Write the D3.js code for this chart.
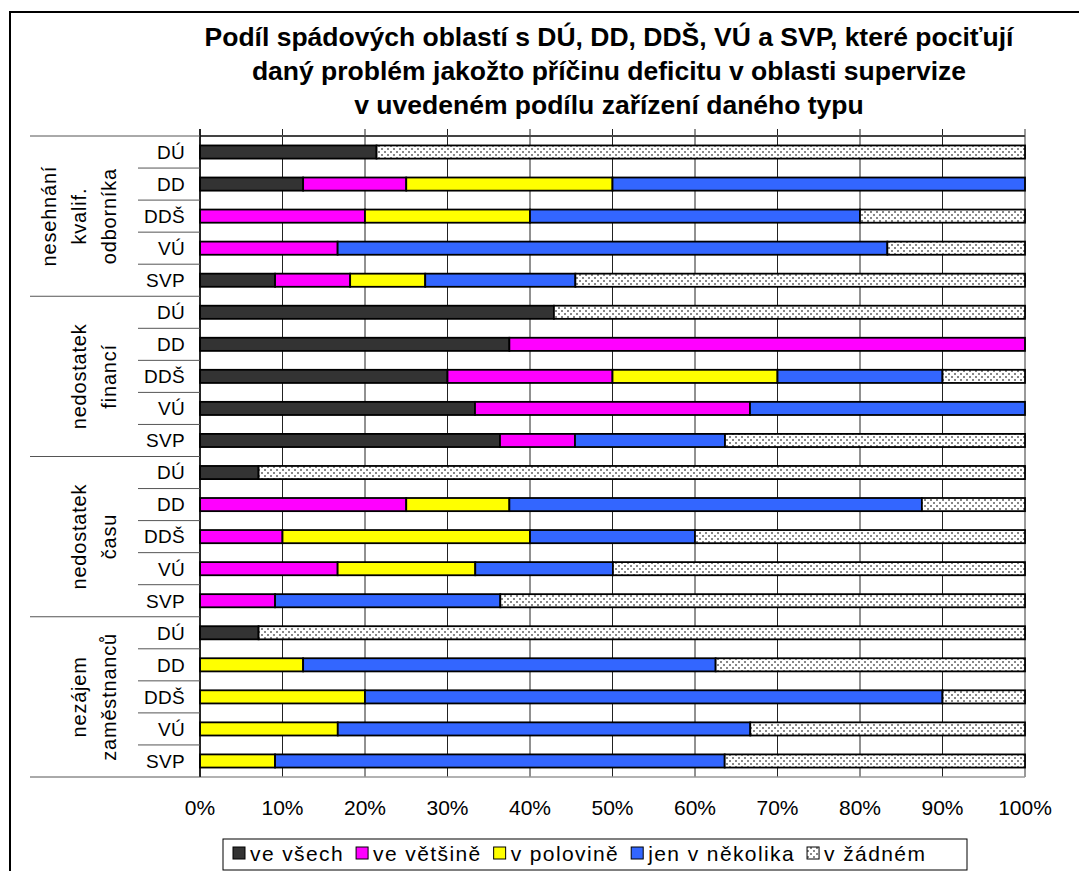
<!DOCTYPE html>
<html lang="cs">
<head>
    <meta charset="UTF-8">
    <title>Podíl spádových oblastí</title>
    <script src="https://d3js.org/d3.v7.min.js"></script>
    <style>
        body { margin: 0; background: #fff; }
        svg { display: block; font-family: "Liberation Sans", Arial, sans-serif; }
    </style>
</head>
<body>
    <div id="chart"></div>
    <script>
        // categories
        const groups = [
            ["nesehnání", "kvalif.", "odborníka"],
            ["nedostatek", "financí"],
            ["nedostatek", "času"],
            ["nezájem", "zaměstnanců"]
        ];
        const facilities = ["DÚ", "DD", "DDŠ", "VÚ", "SVP"];
        const seriesNames = ["ve všech", "ve většině", "v polovině", "jen v několika", "v žádném"];
        const seriesColors = ["#333333", "#ff00ff", "#ffff00", "#3366ff", "url(#dots)"];
        const tickLabels = ["0%", "10%", "20%", "30%", "40%", "50%", "60%", "70%", "80%", "90%", "100%"];

        // values in %, rows in order group by group, DÚ..SVP
        const veVsech      = [21.4, 12.5, 0, 0, 9.1,   42.9, 37.5, 30, 33.3, 36.4,  7.1, 0, 0, 0, 0,        7.1, 0, 0, 0, 0];
        const veVetsine    = [0, 12.5, 20, 16.7, 9.1,  0, 62.5, 20, 33.3, 9.1,      0, 25, 10, 16.7, 9.1,   0, 0, 0, 0, 0];
        const vPolovine    = [0, 25, 20, 0, 9.1,       0, 0, 20, 0, 0,              0, 12.5, 30, 16.7, 0,   0, 12.5, 20, 16.7, 9.1];
        const jenVNekolika = [0, 50, 40, 66.7, 18.2,   0, 0, 20, 33.3, 18.2,        0, 50, 20, 16.7, 27.3,  0, 50, 70, 50, 54.5];
        const vZadnem      = [78.6, 0, 20, 16.7, 54.5, 57.1, 0, 10, 0, 36.4,        92.9, 12.5, 40, 50, 63.6, 92.9, 37.5, 10, 33.3, 36.4];

        const allSeries = [veVsech, veVetsine, vPolovine, jenVNekolika, vZadnem];

        const rows = [];
        groups.forEach((g, gi) => {
            facilities.forEach((f, fi) => {
                const i = gi * facilities.length + fi;
                const r = { id: i, group: gi, label: f };
                seriesNames.forEach((s, si) => { r[s] = allSeries[si][i]; });
                rows.push(r);
            });
        });

        const width = 1079, height = 871;
        const plotLeft = 200, plotRight = 1025, plotTop = 136, plotBottom = 777;

        const svg = d3.select("#chart").append("svg")
            .attr("width", width)
            .attr("height", height);

        // dotted pattern for "v žádném"
        const pat = svg.append("defs").append("pattern")
            .attr("id", "dots")
            .attr("patternUnits", "userSpaceOnUse")
            .attr("width", 6).attr("height", 6);
        pat.append("rect").attr("width", 6).attr("height", 6).attr("fill", "#fff");
        [[0, 1], [3, 4]].forEach(p => {
            pat.append("rect").attr("x", p[0]).attr("y", p[1])
                .attr("width", 2).attr("height", 2).attr("fill", "#888");
        });

        // outer border
        svg.append("rect")
            .attr("x", 10).attr("y", 12)
            .attr("width", 1200).attr("height", 1000)
            .attr("fill", "none").attr("stroke", "#000").attr("stroke-width", 2);

        // title
        const titleLines = [
            "Podíl spádových oblastí s DÚ, DD, DDŠ, VÚ a SVP, které pociťují",
            "daný problém jakožto příčinu deficitu v oblasti supervize",
            "v uvedeném podílu zařízení daného typu"
        ];
        svg.append("text")
            .attr("text-anchor", "middle")
            .attr("font-size", 26.5)
            .attr("font-weight", "bold")
            .selectAll("tspan")
            .data(titleLines)
            .join("tspan")
            .attr("x", 609)
            .attr("y", (d, i) => 46 + i * 34)
            .text(d => d);

        const x = d3.scaleLinear().domain([0, 1]).range([plotLeft, plotRight]);
        const rowScale = d3.scaleBand().domain(rows.map(d => d.id)).range([plotTop, plotBottom]);
        const y = d3.scaleBand().domain(rows.map(d => d.id)).range([plotTop, plotBottom])
            .paddingInner(0.59).paddingOuter(0.295);

        // gridlines
        svg.append("g")
            .selectAll("line")
            .data(d3.range(0, 1.0001, 0.1))
            .join("line")
            .attr("x1", d => x(d)).attr("x2", d => x(d))
            .attr("y1", plotTop - 7).attr("y2", plotBottom)
            .attr("stroke", d => d >= 0.999 ? "#999" : "#222")
            .attr("stroke-width", d => d >= 0.999 ? 2 : 1);

        svg.append("line")
            .attr("x1", plotLeft).attr("x2", plotRight)
            .attr("y1", plotTop).attr("y2", plotTop)
            .attr("stroke", "#444").attr("stroke-width", 2);
        svg.append("line")
            .attr("x1", plotLeft).attr("x2", plotRight)
            .attr("y1", plotBottom).attr("y2", plotBottom)
            .attr("stroke", "#999").attr("stroke-width", 1.5);

        // stacked bars
        const stack = d3.stack().keys(seriesNames).offset(d3.stackOffsetExpand);
        const layers = stack(rows);

        svg.append("g")
            .selectAll("g")
            .data(layers)
            .join("g")
            .attr("fill", (d, i) => seriesColors[i])
            .selectAll("rect")
            .data(d => d.filter(v => v[1] - v[0] > 0))
            .join("rect")
            .attr("x", d => x(d[0]))
            .attr("width", d => x(d[1]) - x(d[0]))
            .attr("y", d => y(d.data.id))
            .attr("height", y.bandwidth())
            .attr("stroke", "#000")
            .attr("stroke-width", 1.8);

        // vertical axis line
        svg.append("line")
            .attr("x1", plotLeft).attr("x2", plotLeft)
            .attr("y1", plotTop - 7).attr("y2", plotBottom)
            .attr("stroke", "#000").attr("stroke-width", 1.5);

        // category axis: row separators and labels
        const cat = svg.append("g");
        cat.selectAll("line.row")
            .data(d3.range(rows.length + 1))
            .join("line")
            .attr("class", "row")
            .attr("x1", d => d % facilities.length === 0 ? 30 : 138)
            .attr("x2", plotLeft)
            .attr("y1", d => plotTop + d * rowScale.step())
            .attr("y2", d => plotTop + d * rowScale.step())
            .attr("stroke", "#555").attr("stroke-width", 1);

        cat.selectAll("text.fac")
            .data(rows)
            .join("text")
            .attr("class", "fac")
            .attr("x", 185)
            .attr("y", d => rowScale(d.id) + rowScale.bandwidth() / 2)
            .attr("dy", "0.36em")
            .attr("text-anchor", "end")
            .attr("font-size", 19)
            .attr("letter-spacing", 0.3)
            .text(d => d.label);

        groups.forEach((g, gi) => {
            const cy = plotTop + (gi * facilities.length + facilities.length / 2) * rowScale.step();
            const t = cat.append("text")
                .attr("transform", `translate(0,${cy}) rotate(-90)`)
                .attr("text-anchor", "middle")
                .attr("font-size", 20)
                .attr("letter-spacing", 0.8);
            g.forEach((line, li) => {
                t.append("tspan")
                    .attr("x", 0)
                    .attr("y", 110 - (g.length - 1 - li) * 30)
                    .attr("dy", "0.3em")
                    .text(line);
            });
        });

        // value axis labels
        svg.append("g")
            .selectAll("text")
            .data(tickLabels)
            .join("text")
            .attr("x", (d, i) => x(i / 10))
            .attr("y", 815)
            .attr("text-anchor", "middle")
            .attr("font-size", 21)
            .text(d => d);

        // legend
        const legend = svg.append("g");
        legend.append("rect")
            .attr("x", 223).attr("y", 839)
            .attr("width", 744).attr("height", 31)
            .attr("fill", "#fff").attr("stroke", "#000").attr("stroke-width", 1);

        let lx = 233;
        seriesNames.forEach((s, i) => {
            legend.append("rect")
                .attr("x", lx).attr("y", 847)
                .attr("width", 12).attr("height", 12)
                .attr("fill", seriesColors[i])
                .attr("stroke", "#000").attr("stroke-width", 1);
            const t = legend.append("text")
                .attr("x", lx + 17).attr("y", 861)
                .attr("font-size", 21)
                .attr("letter-spacing", 1.4)
                .text(s);
            lx += 17 + t.node().getComputedTextLength() + 12;
        });
    </script>
</body>
</html>
